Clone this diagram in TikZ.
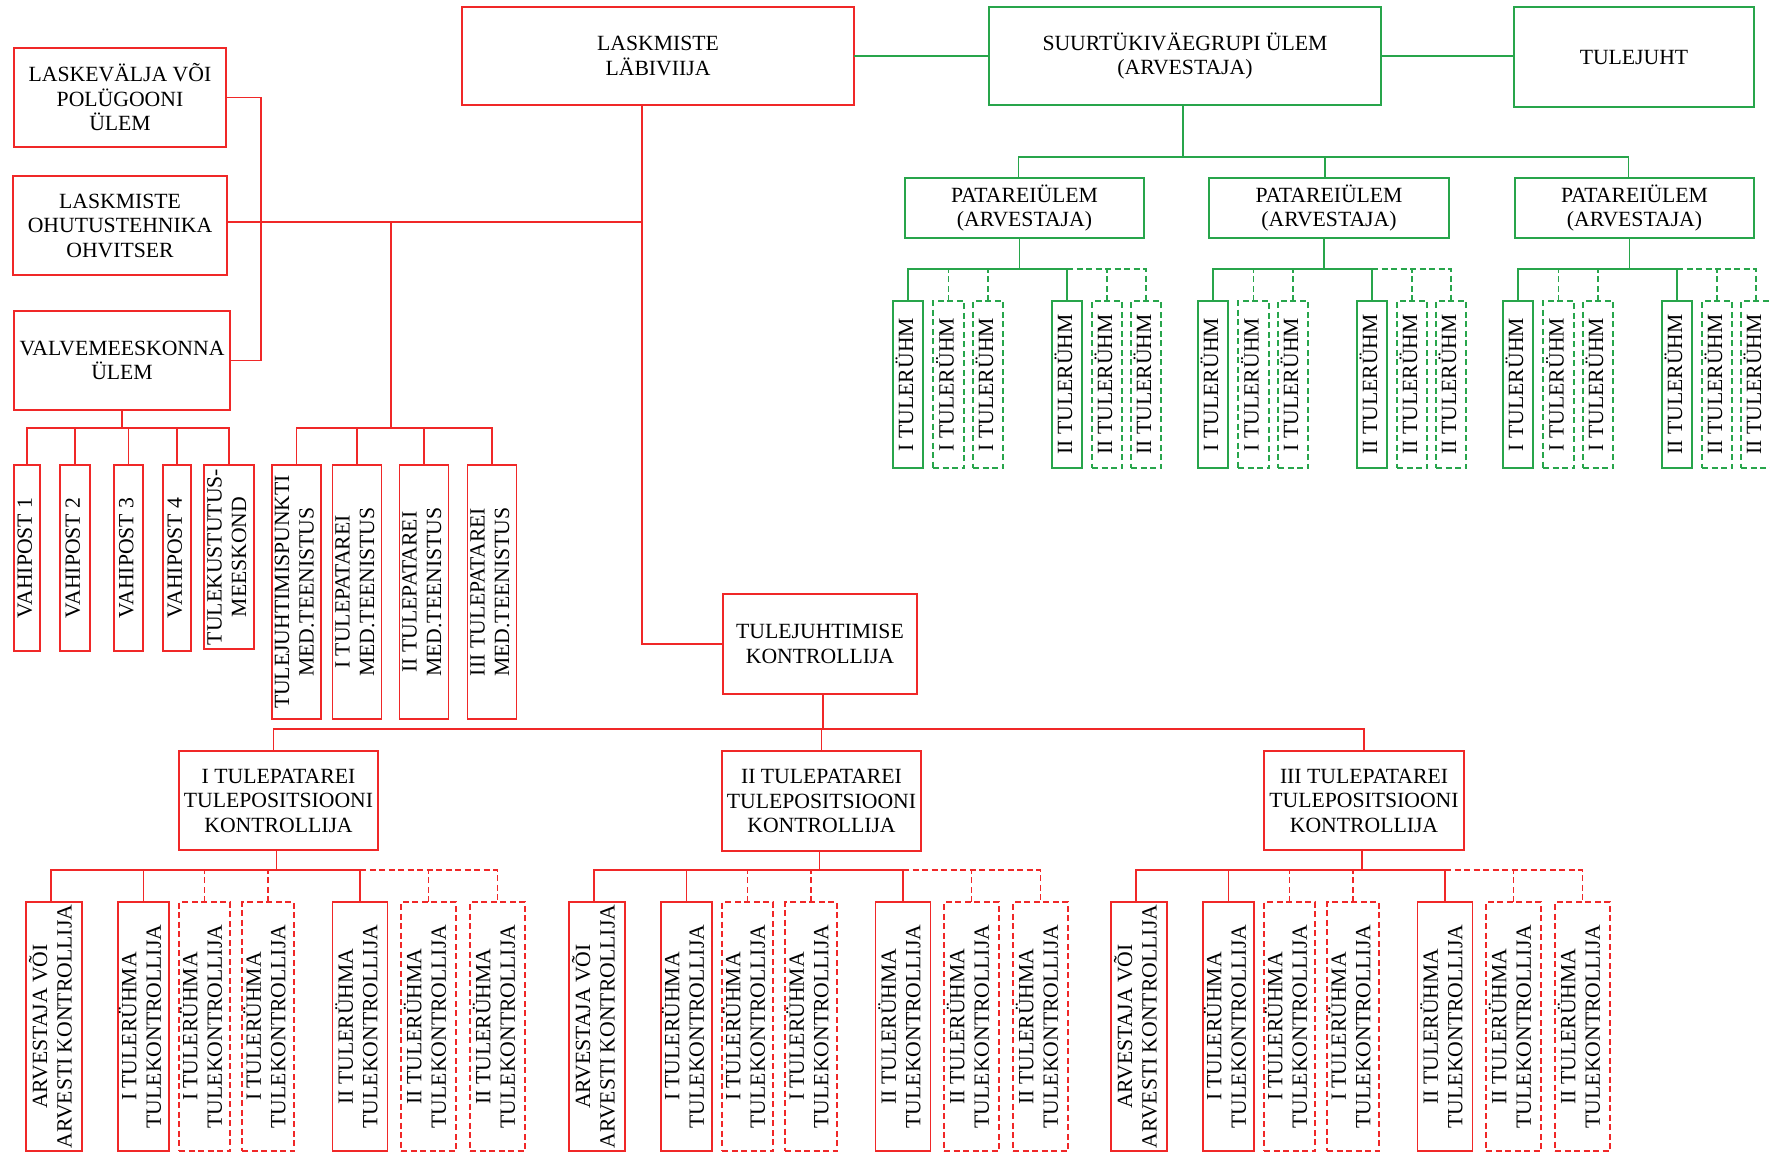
\documentclass[tikz,border=0pt]{standalone}
\usepackage{fontspec}
\setmainfont{Liberation Serif}
\usepackage{graphicx}
\definecolor{rd}{RGB}{240,40,40}
\definecolor{gn}{RGB}{40,165,75}
% rotated (bottom-to-top) multi-line label
\newcommand{\vtxt}[1]{\rotatebox{90}{\begin{tabular}{@{}c@{}}#1\end{tabular}}}
\begin{document}
\begin{tikzpicture}[x=1pt,y=-1pt,
  every node/.style={font=\fontsize{21.7}{24.5}\selectfont, inner sep=0pt, outer sep=0pt},
  sz/.style 2 args={minimum width=#1pt, minimum height=#2pt},
  rbox/.style={draw=rd, line width=1.2pt, align=center},
  gbox/.style={draw=gn, line width=1.2pt, align=center},
  rvb/.style={draw=rd, line width=1.2pt},
  gvb/.style={draw=gn, line width=1.2pt},
  dsh/.style={dash pattern=on 6pt off 3.5pt},
  rline/.style={draw=rd, line width=1.2pt},
  gline/.style={draw=gn, line width=1.2pt},
]
\useasboundingbox (0,0) rectangle (1770,1154);

% ---------- range command (red) ----------
\node[rbox, sz={212}{99}] (lv) at (120,97.5) {LASKEVÄLJA VÕI\\POLÜGOONI\\ÜLEM};
\node[rbox, sz={214}{99}] (oh) at (120,225.5) {LASKMISTE\\OHUTUSTEHNIKA\\OHVITSER};
\node[rbox, sz={216}{99}] (vm) at (122,360.5) {VALVEMEESKONNA\\ÜLEM};
\node[rbox, sz={392}{98}] (lb) at (658,56) {LASKMISTE\\LÄBIVIIJA};
\node[rbox, sz={194}{100}] (tk) at (820,644) {TULEJUHTIMISE\\KONTROLLIJA};

\coordinate (brk) at (261,0);
\coordinate (lbv) at (642,0);
\coordinate (mv) at (391,0);
\coordinate (ohy) at (0,222);

% guard posts
\node[rvb, sz={26}{186}] (v1) at (27,558) {\vtxt{VAHIPOST 1}};
\node[rvb, sz={30}{186}] (v2) at (75,558) {\vtxt{VAHIPOST 2}};
\node[rvb, sz={29}{186}] (v3) at (128.5,558) {\vtxt{VAHIPOST 3}};
\node[rvb, sz={28}{186}] (v4) at (177,558) {\vtxt{VAHIPOST 4}};
\node[rvb, sz={50}{184}] (v5) at (229,557) {\vtxt{TULEKUSTUTUS-\\MEESKOND}};

% medical service
\node[rvb, sz={47}{254}] (m1) at (296.5,592) {\vtxt{TULEJUHTIMISPUNKTI\\MED.TEENISTUS}};
\node[rvb, sz={48.5}{254}] (m2) at (357,592) {\vtxt{I TULEPATAREI\\MED.TEENISTUS}};
\node[rvb, sz={48}{254}] (m3) at (424,592) {\vtxt{II TULEPATAREI\\MED.TEENISTUS}};
\node[rvb, sz={48}{254}] (m4) at (492,592) {\vtxt{III TULEPATAREI\\MED.TEENISTUS}};

% connectors of the upper left part
\draw[rline] (lv.east) -| (brk |- vm.east) -- (vm.east);
\draw[rline] (oh.east |- ohy) -- (lbv |- ohy);
\draw[rline] (lb.south -| lbv) |- (tk.west);
\draw[rline] (mv |- ohy) -- (mv |- 0,428);
\draw[rline] (vm.south) -- (vm.south |- 0,428);
\draw[rline] (v1.north) |- (v5.north |- 0,428) -- (v5.north);
\foreach \n in {v2,v3,v4} \draw[rline] (\n.north) -- (\n.north |- 0,428);
\draw[rline] (m1.north) |- (m4.north |- 0,428) -- (m4.north);
\foreach \n in {m2,m3} \draw[rline] (\n.north) -- (\n.north |- 0,428);

% ---------- fire position controllers ----------
\node[rbox, sz={199}{99}] (p1) at (278.5,800.5) {I TULEPATAREI\\TULEPOSITSIOONI\\KONTROLLIJA};
\node[rbox, sz={199}{100}] (p2) at (821.5,801) {II TULEPATAREI\\TULEPOSITSIOONI\\KONTROLLIJA};
\node[rbox, sz={200}{99}] (p3) at (1364,800.5) {III TULEPATAREI\\TULEPOSITSIOONI\\KONTROLLIJA};

\draw[rline] ([xshift=3pt]tk.south) -- ([xshift=3pt]tk.south |- 0,729);
\draw[rline] ([xshift=-5pt]p1.north) |- (p3.north |- 0,729) -- (p3.north);
\draw[rline] (p2.north) -- (p2.north |- 0,729);

\foreach \g/\o in {1/0,2/543,3/1085}{
  \node[rvb, sz={56}{249}] (b\g1) at (\o+54,1026.5) {\vtxt{ARVESTAJA VÕI\\ARVESTI KONTROLLIJA}};
  \node[rvb, sz={51}{249}] (b\g2) at (\o+143.5,1026.5) {\vtxt{I TULERÜHMA\\TULEKONTROLLIJA}};
  \node[rvb, dsh, sz={51}{249}] (b\g3) at (\o+204.5,1026.5) {\vtxt{I TULERÜHMA\\TULEKONTROLLIJA}};
  \node[rvb, dsh, sz={52}{249}] (b\g4) at (\o+268,1026.5) {\vtxt{I TULERÜHMA\\TULEKONTROLLIJA}};
  \node[rvb, sz={55}{249}] (b\g5) at (\o+360,1026.5) {\vtxt{II TULERÜHMA\\TULEKONTROLLIJA}};
  \node[rvb, dsh, sz={55}{249}] (b\g6) at (\o+428.5,1026.5) {\vtxt{II TULERÜHMA\\TULEKONTROLLIJA}};
  \node[rvb, dsh, sz={55}{249}] (b\g7) at (\o+497.5,1026.5) {\vtxt{II TULERÜHMA\\TULEKONTROLLIJA}};
  \draw[rline] ([xshift=-2pt]p\g.south) -- ([xshift=-2pt]p\g.south |- 0,870);
  \draw[rline] ([xshift=-3pt]b\g1.north) |- (b\g5.north |- 0,870) -- (b\g5.north);
  \draw[rline] (b\g2.north) -- (b\g2.north |- 0,870);
  \draw[rline, dsh] (b\g3.north) -- (b\g3.north |- 0,870);
  \draw[rline, dsh] (b\g4.north) -- (b\g4.north |- 0,870);
  \draw[rline, dsh] (b\g5.north |- 0,870) -| (b\g7.north);
  \draw[rline, dsh] (b\g6.north) -- (b\g6.north |- 0,870);
}

% ---------- artillery group (green) ----------
\node[gbox, sz={392}{98}] (sg) at (1185,56) {SUURTÜKIVÄEGRUPI ÜLEM\\(ARVESTAJA)};
\node[gbox, sz={240}{100}] (tj) at (1634,57) {TULEJUHT};
\draw[gline] (lb.east) -- (sg.west);
\draw[gline] (sg.east) -- (sg.east -| tj.west);

\node[gbox, sz={239}{60}] (pa1) at (1024.5,208) {PATAREIÜLEM\\(ARVESTAJA)};
\node[gbox, sz={240}{60}] (pa2) at (1329,208) {PATAREIÜLEM\\(ARVESTAJA)};
\node[gbox, sz={239}{60}] (pa3) at (1634.5,208) {PATAREIÜLEM\\(ARVESTAJA)};
\draw[gline] ([xshift=-2pt]sg.south) -- ([xshift=-2pt]sg.south |- 0,157);
\draw[gline] ([xshift=-6pt]pa1.north) |- ([xshift=-6pt]pa3.north |- 0,157) -- ([xshift=-6pt]pa3.north);
\draw[gline] ([xshift=-4pt]pa2.north) -- ([xshift=-4pt]pa2.north |- 0,157);

\foreach \g/\o in {1/0,2/305,3/610}{
  \node[gvb, sz={30}{167}] (t\g1) at (\o+908,384.5) {\vtxt{I TULERÜHM}};
  \node[gvb, dsh, sz={31}{167}] (t\g2) at (\o+948.5,384.5) {\vtxt{I TULERÜHM}};
  \node[gvb, dsh, sz={30}{167}] (t\g3) at (\o+988,384.5) {\vtxt{I TULERÜHM}};
  \node[gvb, sz={30}{167}] (t\g4) at (\o+1067,384.5) {\vtxt{II TULERÜHM}};
  \node[gvb, dsh, sz={30}{167}] (t\g5) at (\o+1107,384.5) {\vtxt{II TULERÜHM}};
  \node[gvb, dsh, sz={30}{167}] (t\g6) at (\o+1146,384.5) {\vtxt{II TULERÜHM}};
  \draw[gline] ([xshift=-5pt]pa\g.south) -- ([xshift=-5pt]pa\g.south |- 0,269);
  \draw[gline] (t\g1.north) |- (t\g4.north |- 0,269) -- (t\g4.north);
  \draw[gline, dsh] (t\g2.north) -- (t\g2.north |- 0,269);
  \draw[gline, dsh] (t\g3.north) -- (t\g3.north |- 0,269);
  \draw[gline, dsh] (t\g4.north |- 0,269) -| (t\g6.north);
  \draw[gline, dsh] (t\g5.north) -- (t\g5.north |- 0,269);
}
\end{tikzpicture}
\end{document}
